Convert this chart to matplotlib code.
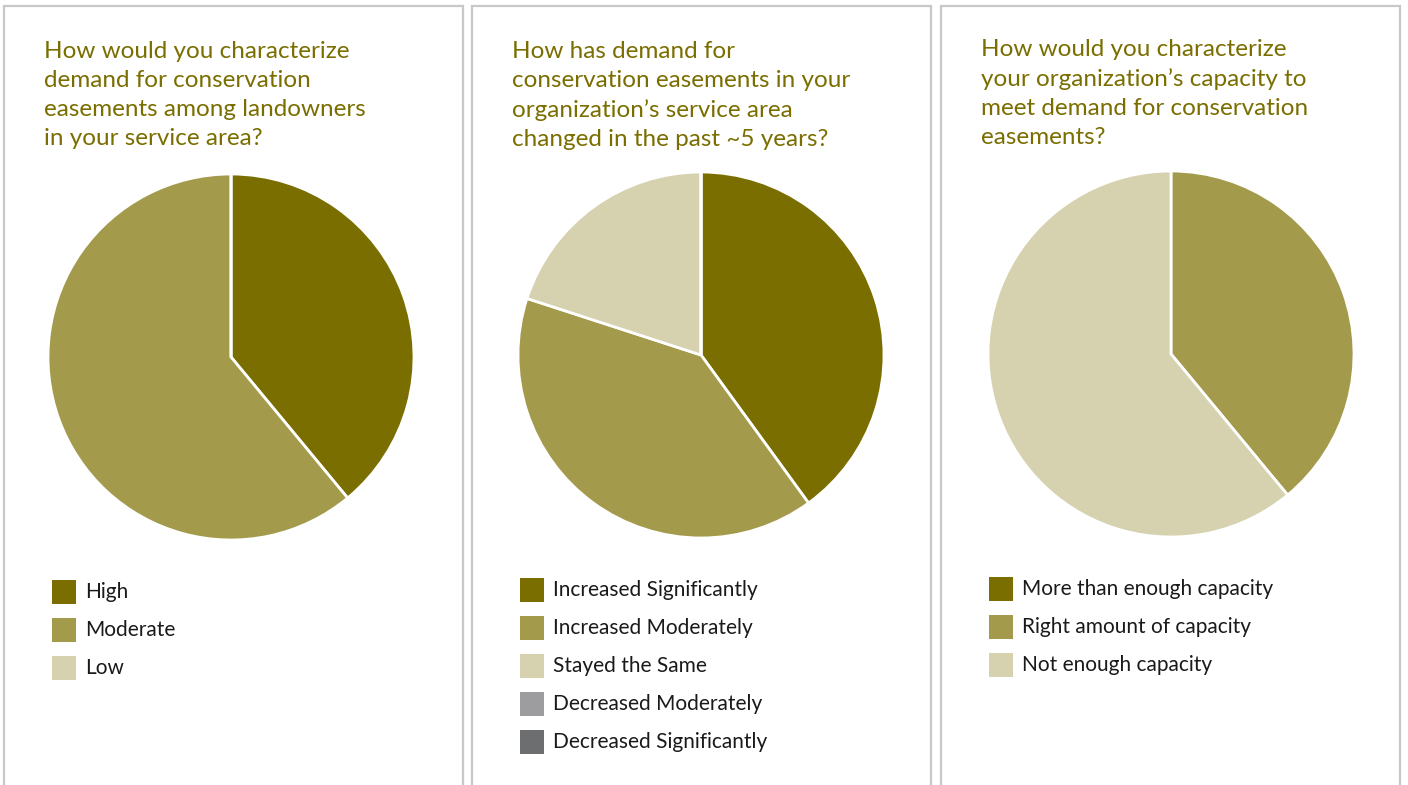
import matplotlib
matplotlib.use("Agg")
import matplotlib.pyplot as plt
from matplotlib.patches import Rectangle

plt.rcParams['font.family'] = ['Lato', 'DejaVu Sans']

W, H = 1408, 785

# data (percent of respondents)
titles = [
    "How would you characterize\ndemand for conservation\neasements among landowners\nin your service area?",
    "How has demand for\nconservation easements in your\norganization\u2019s service area\nchanged in the past ~5 years?",
    "How would you characterize\nyour organization\u2019s capacity to\nmeet demand for conservation\neasements?",
]
demand_labels = ["High", "Moderate", "Low"]
demand_values = [39, 61, 0]
change_labels = ["Increased Significantly", "Increased Moderately", "Stayed the Same",
                 "Decreased Moderately", "Decreased Significantly"]
change_values = [40, 40, 20, 0, 0]
capacity_labels = ["More than enough capacity", "Right amount of capacity", "Not enough capacity"]
capacity_values = [0, 39, 61]

dark, mid, light = "#7a6e00", "#a39a4c", "#d6d2b0"
demand_colors = [dark, mid, light]
change_colors = [dark, mid, light, "#9d9d9f", "#6d6e70"]
capacity_colors = [dark, mid, light]

panels = [
    (titles[0], demand_labels, demand_values, demand_colors),
    (titles[1], change_labels, change_values, change_colors),
    (titles[2], capacity_labels, capacity_values, capacity_colors),
]

# layout in pixels
panel_x = [4, 472, 941]
panel_w = 459
pie_cx = [231, 701, 1171]
pie_cy = [357, 355, 354]
pie_r = 183
title_y = [41, 41, 39]
legend_y0 = [592, 590, 589]

fig = plt.figure(figsize=(W / 100, H / 100), dpi=100)
fig.patch.set_facecolor("white")

def fx(px):
    return px / W

def fy(py):
    return 1 - py / H

for i, (title, labels, values, colors) in enumerate(panels):
    # panel frame, open at the bottom
    fig.patches.append(Rectangle((fx(panel_x[i]), fy(H + 20)), panel_w / W, (H + 20 - 6) / H,
                                 transform=fig.transFigure, fill=False,
                                 edgecolor="#c8c8c8", linewidth=1.6))

    fig.text(fx(panel_x[i] + 40), fy(title_y[i]), title, ha="left", va="top",
             color="#7a6e00", fontsize=17.5, linespacing=1.47)

    ax = fig.add_axes([fx(pie_cx[i] - pie_r), fy(pie_cy[i] + pie_r), 2 * pie_r / W, 2 * pie_r / H])
    ax.pie(values, colors=colors, startangle=90, counterclock=False,
           wedgeprops=dict(edgecolor="white", linewidth=2))
    ax.set_xlim(-1, 1)
    ax.set_ylim(-1, 1)
    ax.set_aspect("equal")
    ax.axis("off")

    for j, (lab, col) in enumerate(zip(labels, colors)):
        yc = legend_y0[i] + 38 * j
        fig.patches.append(Rectangle((fx(panel_x[i] + 48), fy(yc + 12)), 24 / W, 24 / H,
                                     transform=fig.transFigure, facecolor=col, edgecolor="none"))
        fig.text(fx(panel_x[i] + 81), fy(yc), lab, ha="left", va="center",
                 color="#1a1a1a", fontsize=15)

fig.savefig("out.png", dpi=100)
